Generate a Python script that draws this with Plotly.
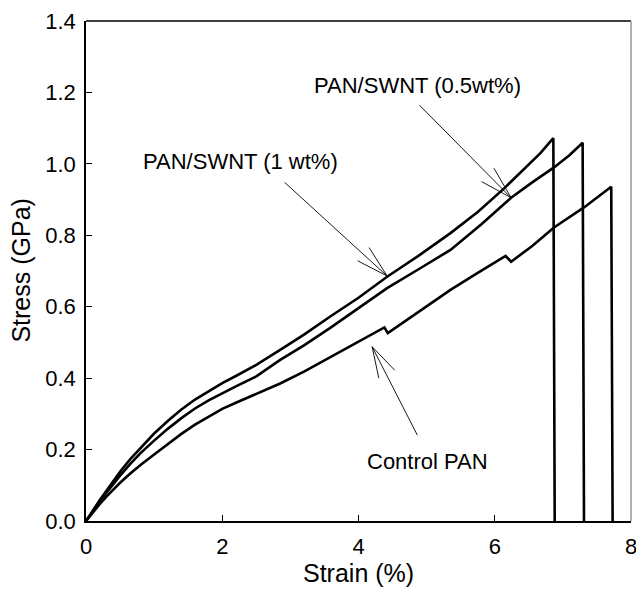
import plotly.graph_objects as go

# ---- Data (Strain %, Stress GPa) ----
swnt1_strain = [0, 0.1, 0.2, 0.3, 0.4, 0.5, 0.65, 0.8, 1.0, 1.2, 1.4, 1.6, 1.8, 2.0, 2.2, 2.5,
                2.85, 3.2, 3.58, 4.0, 4.42, 4.9, 5.35, 5.75, 6.13, 6.4, 6.67, 6.86, 6.88]
swnt1_stress = [0, 0.03, 0.058, 0.085, 0.112, 0.138, 0.173, 0.205, 0.245, 0.28, 0.312, 0.34, 0.364, 0.386, 0.406, 0.437,
                0.479, 0.522, 0.572, 0.625, 0.684, 0.745, 0.806, 0.865, 0.93, 0.98, 1.03, 1.072, 0]

swnt05_strain = [0, 0.1, 0.2, 0.3, 0.4, 0.5, 0.65, 0.8, 1.0, 1.2, 1.4, 1.6, 1.8, 2.0, 2.2, 2.5,
                 2.85, 3.2, 3.58, 4.0, 4.42, 4.9, 5.35, 5.8, 6.24, 6.55, 6.87, 7.1, 7.29, 7.31]
swnt05_stress = [0, 0.028, 0.054, 0.079, 0.104, 0.127, 0.16, 0.19, 0.225, 0.258, 0.288, 0.315, 0.338, 0.358, 0.377, 0.405,
                 0.451, 0.492, 0.540, 0.596, 0.652, 0.707, 0.759, 0.83, 0.905, 0.948, 0.99, 1.025, 1.059, 0]

control_strain = [0, 0.1, 0.2, 0.3, 0.4, 0.5, 0.65, 0.8, 1.0, 1.2, 1.4, 1.6, 1.8, 2.0, 2.2, 2.5,
                  2.85, 3.2, 3.58, 4.0, 4.38, 4.43, 4.86, 5.35, 5.75, 6.16, 6.24, 6.55, 6.87, 7.31, 7.71, 7.73]
control_stress = [0, 0.024, 0.047, 0.068, 0.088, 0.107, 0.133, 0.157, 0.186, 0.216, 0.244, 0.27, 0.293, 0.314, 0.331, 0.355,
                  0.385, 0.418, 0.458, 0.503, 0.542, 0.526, 0.582, 0.647, 0.695, 0.742, 0.726, 0.77, 0.822, 0.878, 0.936, 0]

x_ticks = [0, 2, 4, 6, 8]
y_ticks = [0.0, 0.2, 0.4, 0.6, 0.8, 1.0, 1.2, 1.4]
x_title = "Strain (%)"
y_title = "Stress (GPa)"

# Labels: (text, x, y) in data coords
labels = [
    ("PAN/SWNT (1 wt%)", 2.27, 1.006),
    ("PAN/SWNT (0.5wt%)", 4.86, 1.22),
    ("Control PAN", 5.02, 0.166),
]
# Arrows: tip (data coords), tail offset and barb offsets (pixels)
arrows = [
    (4.42, 0.686, (-104, -95), [(-19, -30), (-31, -16)]),
    (6.24, 0.905, (-93, -94), [(-18, -31), (-31, -17)]),
    (4.20, 0.488, (46, 90), [(7, 33), (24, 25)]),
]

FONT = "Arial, Liberation Sans, sans-serif"

fig = go.Figure()
for xs, ys in [(swnt1_strain, swnt1_stress), (swnt05_strain, swnt05_stress), (control_strain, control_stress)]:
    fig.add_trace(go.Scatter(x=xs, y=ys, mode="lines",
                             line=dict(color="black", width=2.6), showlegend=False))

annotations = []
for text, x, y in labels:
    annotations.append(dict(x=x, y=y, xref="x", yref="y", text=text, showarrow=False,
                            font=dict(family=FONT, size=22, color="black")))
for tx, ty, tail, barbs in arrows:
    for (dx, dy) in [tail] + barbs:
        annotations.append(dict(x=tx, y=ty, xref="x", yref="y", ax=dx, ay=dy, axref="pixel", ayref="pixel",
                                text="", showarrow=True, arrowhead=0, arrowwidth=0.9,
                                arrowcolor="black", standoff=0, startstandoff=0))
# axis titles
annotations.append(dict(x=0.5, y=-0.104, xref="paper", yref="paper", text=x_title, showarrow=False,
                        xanchor="center", yanchor="middle", borderpad=0,
                        font=dict(family=FONT, size=25, color="black")))
annotations.append(dict(x=-0.12, y=0.5, xref="paper", yref="paper", text=y_title, showarrow=False,
                        textangle=-90, xanchor="center", yanchor="middle",
                        font=dict(family=FONT, size=25, color="black")))

axis_common = dict(showgrid=False, zeroline=False, showline=True, linecolor="black", linewidth=1.5,
                   ticks="inside", ticklen=6, tickwidth=1, tickcolor="black",
                   ticklabeloverflow="allow", automargin=False,
                   tickfont=dict(family=FONT, size=22, color="black"))

fig.update_layout(
    width=636, height=589,
    margin=dict(l=86, r=5, t=21, b=68),
    plot_bgcolor="white", paper_bgcolor="white",
    xaxis=dict(range=[0, 8], tickvals=x_ticks, ticklabelstandoff=5, **axis_common),
    yaxis=dict(range=[0, 1.4], tickvals=y_ticks, tickformat=".1f", ticklabelstandoff=4, **axis_common),
    annotations=annotations,
    shapes=[
        dict(type="line", xref="paper", yref="paper", x0=0, x1=1, y0=1, y1=1,
             line=dict(color="black", width=1.5)),
        dict(type="line", xref="paper", yref="paper", x0=1, x1=1, y0=0, y1=1,
             line=dict(color="#999999", width=1.5)),
    ],
)

fig.write_html("out.html")
